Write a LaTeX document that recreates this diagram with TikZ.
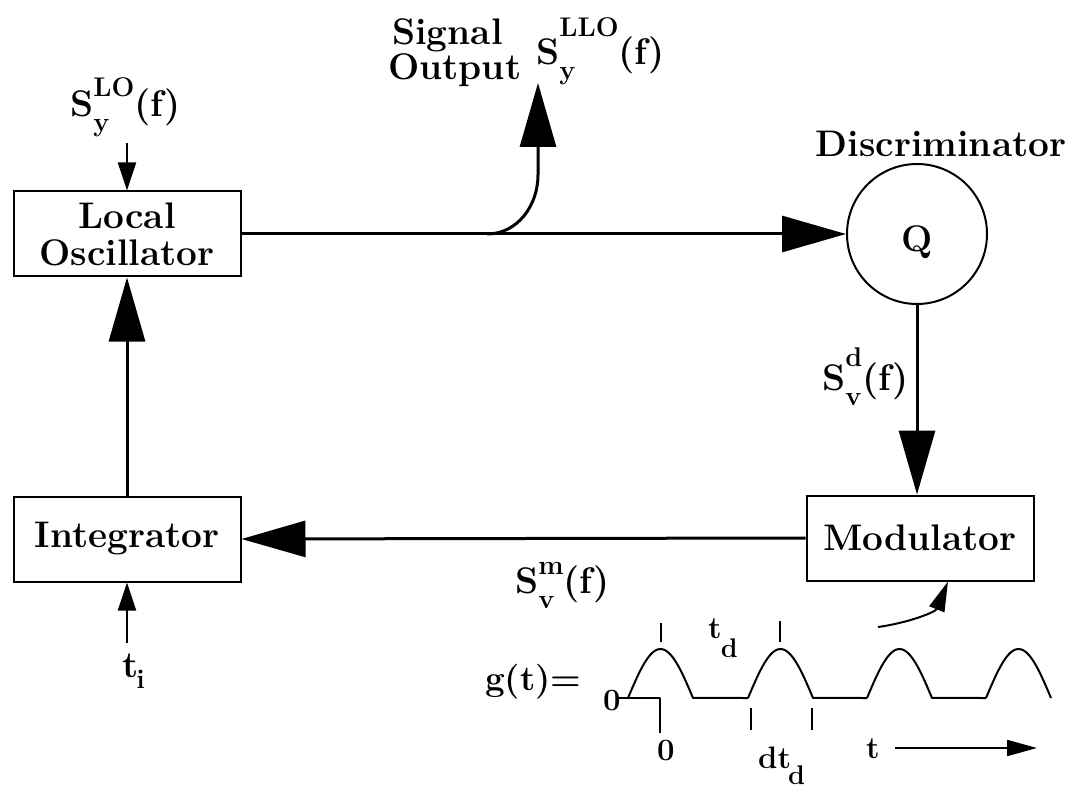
\documentclass[tikz,border=0pt]{standalone}
\usetikzlibrary{arrows.meta,calc}
\newcommand\fmain{\fontsize{37}{37}\selectfont\bfseries}
\newcommand\flab{\fontsize{31}{32}\selectfont\bfseries}
\newcommand\fsub{\fontsize{27}{28}\selectfont\bfseries}
% #1 raise of superscript, #2 superscript, #3 subscript
\newcommand\Spec[3]{S\makebox[0pt][l]{\raisebox{-15pt}{\fsub#3}}\raisebox{#1pt}{\fsub#2}(f)}
\tikzset{
  blk/.style={draw, line width=2pt, minimum width=227pt, minimum height=85pt, inner sep=0pt, font=\fmain, align=center},
  circ/.style={draw, circle, line width=2pt, minimum size=140pt, inner sep=0pt},
  conn/.style={line width=3pt},
  thin/.style={line width=2pt},
  bigarrow/.style={-{Triangle[length=64pt,width=36pt]}},
  smallarrow/.style={-{Triangle[length=28pt,width=18pt]}},
  midarrow/.style={-{Triangle[length=30pt,width=16pt]}},
  lab/.style={inner sep=0pt, anchor=base west, font=\fmain},
  slab/.style={inner sep=0pt, anchor=base west, font=\flab},
  wave/.style={line width=2pt, line join=round}
}
\begin{document}
\begin{tikzpicture}[x=1pt,y=-1pt]
\useasboundingbox (0,0) rectangle (1081,794);

% blocks
\node[blk] (LO) at (127,234) {Local\\Oscillator};
\node[blk] (INT) at (127,539) {Integrator};
\node[blk] (MOD) at (920,538) {Modulator};
\node[circ] (DISC) at (917,234) {};
\node[lab, anchor=base] (Q) at (917,252) {Q};

% connectors
\draw[conn, bigarrow] (LO.east) -- (DISC.west);
\coordinate (branch) at (487,234);
\coordinate (bend) at (538,175);
\coordinate (outtip) at (538,83);
\draw[conn, bigarrow] (branch) to[out=0,in=-90] (bend) -- (outtip);
\draw[conn, bigarrow] (DISC.south) -- (DISC.south |- MOD.north);
\draw[conn, bigarrow] (MOD.west) -- (INT.east);
\draw[conn, bigarrow] (INT.north) -- (LO.south);
\coordinate (loin) at (127,143);
\draw[thin, smallarrow] (loin) -- (LO.north);
\coordinate (tin) at (127,643);
\draw[thin, smallarrow] (tin) -- (INT.south);

% labels
\node[lab] (sig) at (392,45) {Signal};
\node[lab] (outp) at (388,80) {Output};
\node[lab] (sllo) at (536,65) {\Spec{28}{LLO}{y}};
\node[lab] (slo) at (70,117) {\Spec{20}{LO}{y}};
\node[lab, anchor=base] (discl) at (941,157) {Discriminator};
\node[lab] (sd) at (822,390) {\Spec{24}{d}{v}};
\node[lab] (sm) at (515,593) {\Spec{19}{m}{v}};
\node[lab] (ti) at (122,677) {t\kern-2pt\raisebox{-11pt}{\fsub i}};

% g(t) waveform
\node[lab, font=\fontsize{35}{36}\selectfont\bfseries] (gt) at (485,690) {g(t)=};
\node[slab] (z1) at (603,710) {0};
\node[slab] (z2) at (657,760) {0};
\node[slab] (td) at (708,638) {t\kern-1pt\raisebox{-19pt}{\fsub d}};
\node[slab] (dtd) at (758,768) {dt\kern-3pt\raisebox{-16pt}{\fsub d}};
\node[slab] (tt) at (866,758) {t};

\draw[wave] (618,698) -- (660,698) -- (660,733);
\draw[wave] (628,698)
  plot[domain=0:1,samples=30] ({628+65*\x},{698-49*sin(180*\x)})
  -- (748,698)
  plot[domain=0:1,samples=30] ({748+65*\x},{698-49*sin(180*\x)})
  -- (867,698)
  plot[domain=0:1,samples=30] ({867+65*\x},{698-49*sin(180*\x)})
  -- (986,698)
  plot[domain=0:1,samples=30] ({986+65*\x},{698-49*sin(180*\x)});
% ticks
\draw[wave] (661,623) -- (661,642);
\draw[wave] (780,621) -- (780,642);
\draw[wave] (751,708) -- (751,730);
\draw[wave] (812,708) -- (812,730);

% time axis arrow
\coordinate (tstart) at (895,748);
\coordinate (tend) at (1037,748);
\draw[thin, midarrow] (tstart) -- (tend);

% curved arrow to modulator
\coordinate (gstart) at (878,627);
\coordinate (gtip) at ($(MOD.south)+(28,0)$);
\draw[thin, midarrow] (gstart) to[out=8,in=-112] (gtip);
\end{tikzpicture}
\end{document}
